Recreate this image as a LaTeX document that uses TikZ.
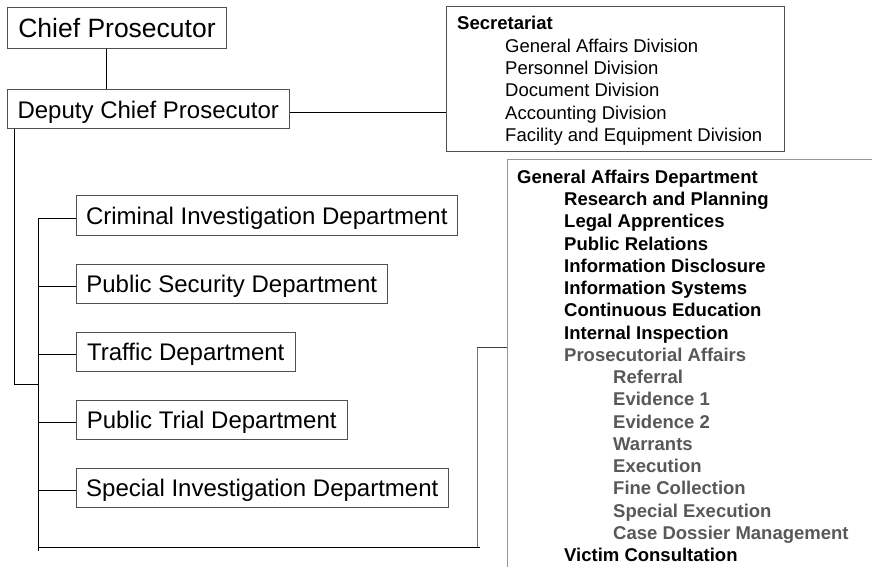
\documentclass[tikz,border=0pt]{standalone}
\usepackage{fontspec}
\setmainfont{Liberation Sans}
\definecolor{boxedge}{RGB}{80,80,80}
\definecolor{bigedge}{RGB}{150,150,150}
\definecolor{subgray}{RGB}{88,88,88}
\definecolor{linkgray}{RGB}{120,120,120}
\begin{document}
\begin{tikzpicture}[x=1pt,y=-1pt,
  orgbox/.style={draw=boxedge, line width=0.9pt, inner sep=0pt, text height=17.2pt, text depth=0pt, font=\fontsize{24}{28}\selectfont},
  bigorg/.style={orgbox, text height=19pt, font=\fontsize{26.5}{30}\selectfont},
  listbox/.style={draw=boxedge, line width=0.9pt, inner sep=0pt},
  gadbox/.style={draw=bigedge, line width=1pt, inner sep=0pt},
  conn/.style={line width=0.9pt, draw=black},
  graylink/.style={line width=1pt, draw=linkgray},
  txt/.style={anchor=base west, inner sep=0pt, font=\fontsize{18.5}{22}\selectfont},
  btxt/.style={txt, font=\fontsize{18.5}{22}\selectfont\bfseries}]
\useasboundingbox (0,0) rectangle (872,567);
\clip (0,0) rectangle (872,567);

% top boxes
\node[bigorg, minimum width=219.4pt, minimum height=41pt] (chief) at (117,27.8) {Chief Prosecutor};
\node[orgbox, minimum width=282pt, minimum height=39pt] (deputy) at (148.3,109.4) {Deputy Chief Prosecutor};

% secretariat
\node[listbox, minimum width=337.8pt, minimum height=144.8pt] (sec) at (615.4,79.1) {};
\node[btxt] (sec0) at (457,30) {Secretariat};
\foreach \t [count=\i] in {General Affairs Division, Personnel Division, Document Division, Accounting Division, Facility and Equipment Division}{
  \pgfmathsetmacro\yy{30+22.3*\i}
  \node[txt] (sec\i) at (505,\yy) {\t};
}

% departments
\node[orgbox, minimum width=381.7pt, minimum height=39.4pt] (crim) at (266.8,215.5) {Criminal Investigation Department};
\node[orgbox, minimum width=311.3pt, minimum height=39.4pt] (pubsec) at (231.7,283.7) {Public Security Department};
\node[orgbox, minimum width=219.3pt, minimum height=39.4pt] (traffic) at (185.7,351.7) {Traffic Department};
\node[orgbox, minimum width=271.3pt, minimum height=39.4pt] (trial) at (211.7,419.7) {Public Trial Department};
\node[orgbox, minimum width=372.7pt, minimum height=39.4pt] (special) at (262.3,487.7) {Special Investigation Department};

% general affairs department box (runs off the page)
\node[gadbox, anchor=north west, minimum width=420pt, minimum height=460pt] (gad) at (507,159) {};
\foreach \t/\lv/\c [count=\i from 0] in {
  General Affairs Department/517/black,
  Research and Planning/564/black,
  Legal Apprentices/564/black,
  Public Relations/564/black,
  Information Disclosure/564/black,
  Information Systems/564/black,
  Continuous Education/564/black,
  Internal Inspection/564/black,
  Prosecutorial Affairs/564/subgray,
  Referral/613/subgray,
  Evidence 1/613/subgray,
  Evidence 2/613/subgray,
  Warrants/613/subgray,
  Execution/613/subgray,
  Fine Collection/613/subgray,
  Special Execution/613/subgray,
  Case Dossier Management/613/subgray,
  Victim Consultation/564/black}{
  \pgfmathsetmacro\yy{183.3+22.25*\i}
  \node[btxt, text=\c] (gad\i) at (\lv,\yy) {\t};
}

% connectors
\draw[conn] ([xshift=-11pt]chief.south) -- ([xshift=-11pt]chief.south |- deputy.north);
\coordinate (dr) at ([yshift=-3pt]deputy.east);
\draw[conn] (dr) -- (dr -| sec.west);

\coordinate (j1) at (38,384);
\coordinate (trunkTop) at (38,218.5);
\coordinate (trunkBot) at (38,551);
\draw[conn] ([xshift=7.7pt]deputy.south west) |- (j1);
\draw[conn] (trunkTop) -- (trunkBot);
\foreach \n in {crim,pubsec,traffic,trial,special}{
  \coordinate (s\n) at ([yshift=-3pt]\n.west);
  \draw[conn] (s\n -| trunkTop) -- (s\n);
}
\coordinate (b1) at (38,547);
\coordinate (b2) at (480,547);
\draw[conn] (b1) -- (b2);
\coordinate (g1) at (477,547);
\coordinate (g2) at (477,347);
\draw[graylink] (g1) -- (g2);
\draw[conn, draw=black!75] (g2) -- (g2 -| gad.west);
\end{tikzpicture}
\end{document}
